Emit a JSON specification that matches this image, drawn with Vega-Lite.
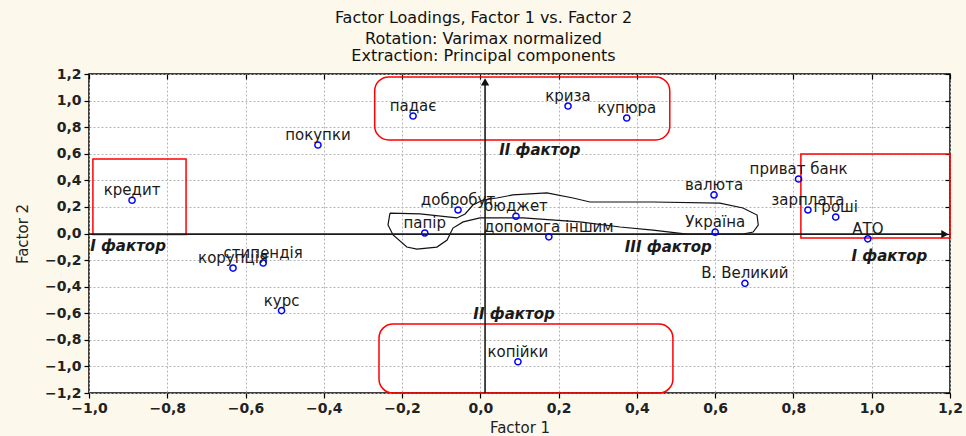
{
  "$schema": "https://vega.github.io/schema/vega-lite/v6.json",
  "width": 861,
  "height": 319,
  "autosize": {"type": "none"},
  "padding": {"left": 89, "top": 74, "right": 16, "bottom": 43},
  "background": "#fdf8ec",
  "view": {"fill": "white", "stroke": "black", "strokeWidth": 1.5},
  "config": {"font": "DejaVu Sans"},
  "title": {
    "text": "Factor Loadings, Factor 1 vs. Factor 2",
    "subtitle": ["Rotation: Varimax normalized", "Extraction: Principal components"],
    "font": "DejaVu Sans",
    "subtitleFont": "DejaVu Sans",
    "fontSize": 16,
    "subtitleFontSize": 16,
    "fontWeight": "normal",
    "color": "#111",
    "subtitleColor": "#111",
    "anchor": "middle",
    "dx": -36,
    "offset": 3,
    "subtitlePadding": 5,
    "subtitleLineHeight": 17
  },
  "resolve": {"axis": {"x": "independent", "y": "independent"}},
  "datasets": {
    "pts": [
      {"label": "кредит", "x": -0.89, "y": 0.25},
      {"label": "покупки", "x": -0.415, "y": 0.666},
      {"label": "падає", "x": -0.172, "y": 0.884},
      {"label": "криза", "x": 0.224, "y": 0.959},
      {"label": "купюра", "x": 0.374, "y": 0.869},
      {"label": "приват банк", "x": 0.813, "y": 0.41},
      {"label": "валюта", "x": 0.597, "y": 0.29},
      {"label": "зарплата", "x": 0.837, "y": 0.177},
      {"label": "гроші", "x": 0.908, "y": 0.124},
      {"label": "АТО", "x": 0.99, "y": -0.04},
      {"label": "Україна", "x": 0.6, "y": 0.01},
      {"label": "допомога іншим", "x": 0.175, "y": -0.025},
      {"label": "бюджет", "x": 0.091, "y": 0.13},
      {"label": "добробут", "x": -0.057, "y": 0.177},
      {"label": "папір", "x": -0.142, "y": 0.004},
      {"label": "стипендія", "x": -0.555, "y": -0.222},
      {"label": "корупція", "x": -0.632, "y": -0.26},
      {"label": "курс", "x": -0.508, "y": -0.58},
      {"label": "В. Великий", "x": 0.676, "y": -0.375},
      {"label": "копійки", "x": 0.096, "y": -0.965}
    ],
    "boxesSq": [
      {"x": -0.99, "x2": -0.752, "y": 0.561, "y2": -0.008},
      {"x": 0.819, "x2": 1.2, "y": 0.598, "y2": -0.034}
    ],
    "boxesRd": [
      {"x": -0.27, "x2": 0.484, "y": 1.178, "y2": 0.704},
      {"x": -0.259, "x2": 0.492, "y": -0.681, "y2": -1.2}
    ],
    "blob": [
      {"i": 0, "x": -0.231, "y": 0.154},
      {"i": 1, "x": -0.154, "y": 0.147},
      {"i": 2, "x": -0.06, "y": 0.117},
      {"i": 3, "x": -0.039, "y": 0.147},
      {"i": 4, "x": -0.019, "y": 0.214},
      {"i": 5, "x": 0.007, "y": 0.252},
      {"i": 6, "x": 0.042, "y": 0.267},
      {"i": 7, "x": 0.083, "y": 0.29},
      {"i": 8, "x": 0.17, "y": 0.305},
      {"i": 9, "x": 0.237, "y": 0.267},
      {"i": 10, "x": 0.28, "y": 0.237},
      {"i": 11, "x": 0.441, "y": 0.237},
      {"i": 12, "x": 0.612, "y": 0.229},
      {"i": 13, "x": 0.671, "y": 0.192},
      {"i": 14, "x": 0.707, "y": 0.139},
      {"i": 15, "x": 0.71, "y": 0.064},
      {"i": 16, "x": 0.697, "y": 0.011},
      {"i": 17, "x": 0.671, "y": -0.004},
      {"i": 18, "x": 0.528, "y": -0.004},
      {"i": 19, "x": 0.441, "y": 0.026},
      {"i": 20, "x": 0.357, "y": 0.049},
      {"i": 21, "x": 0.254, "y": 0.087},
      {"i": 22, "x": 0.109, "y": 0.117},
      {"i": 23, "x": -0.001, "y": 0.117},
      {"i": 24, "x": -0.044, "y": 0.087},
      {"i": 25, "x": -0.07, "y": 0.041},
      {"i": 26, "x": -0.085, "y": -0.049},
      {"i": 27, "x": -0.111, "y": -0.102},
      {"i": 28, "x": -0.162, "y": -0.117},
      {"i": 29, "x": -0.188, "y": -0.102},
      {"i": 30, "x": -0.223, "y": -0.011},
      {"i": 31, "x": -0.236, "y": 0.064},
      {"i": 32, "x": -0.231, "y": 0.154}
    ],
    "arrows": [
      {"x": 0.012, "x2": 0.012, "y": -1.2, "y2": 1.15},
      {"x": -1.0, "x2": 1.18, "y": -0.005, "y2": -0.005}
    ],
    "heads": [
      {"x": 0.012, "y": 1.14, "shape": "triangle-up"},
      {"x": 1.187, "y": -0.005, "shape": "triangle-right"}
    ],
    "factors": [
      {"t": "II фактор", "x": 0.152, "y": 0.628},
      {"t": "III фактор", "x": 0.48, "y": -0.1},
      {"t": "I фактор", "x": 1.045, "y": -0.17},
      {"t": "II фактор", "x": 0.086, "y": -0.606}
    ],
    "factorsL": [
      {"t": "I фактор", "x": -0.997, "y": -0.094}
    ]
  },
  "layer": [
    {
      "data": {"name": "boxesSq"},
      "mark": {"type": "rect", "filled": false, "stroke": "#ff0000", "strokeWidth": 1.5, "clip": false},
      "encoding": {
        "x": {"field": "x", "type": "quantitative", "scale": {"domain": [-1, 1.2], "nice": false, "zero": false}, "axis": null},
        "x2": {"field": "x2"},
        "y": {"field": "y", "type": "quantitative", "scale": {"domain": [-1.2, 1.2], "nice": false, "zero": false}, "axis": null},
        "y2": {"field": "y2"}
      }
    },
    {
      "data": {"name": "boxesRd"},
      "mark": {"type": "rect", "filled": false, "stroke": "#ff0000", "strokeWidth": 1.5, "cornerRadius": 14, "clip": false},
      "encoding": {
        "x": {"field": "x", "type": "quantitative", "scale": {"domain": [-1, 1.2], "nice": false, "zero": false}, "axis": null},
        "x2": {"field": "x2"},
        "y": {"field": "y", "type": "quantitative", "scale": {"domain": [-1.2, 1.2], "nice": false, "zero": false}, "axis": null},
        "y2": {"field": "y2"}
      }
    },
    {
      "data": {"name": "blob"},
      "mark": {"type": "line", "color": "#111", "strokeWidth": 1.2, "interpolate": "linear"},
      "encoding": {
        "x": {"field": "x", "type": "quantitative", "scale": {"domain": [-1, 1.2], "nice": false, "zero": false}, "axis": null},
        "y": {"field": "y", "type": "quantitative", "scale": {"domain": [-1.2, 1.2], "nice": false, "zero": false}, "axis": null},
        "order": {"field": "i", "type": "quantitative"}
      }
    },
    {
      "data": {"name": "arrows"},
      "mark": {"type": "rule", "color": "#1a1a1a", "strokeWidth": 1.6},
      "encoding": {
        "x": {"field": "x", "type": "quantitative", "scale": {"domain": [-1, 1.2], "nice": false, "zero": false},
          "axis": {"orient": "top", "values": [-1, -0.8, -0.6, -0.4, -0.2, 0, 0.2, 0.4, 0.6, 0.8, 1, 1.2], "labels": false, "grid": false, "domain": false, "tickSize": -5, "tickColor": "#000", "tickWidth": 1.2, "title": null}},
        "x2": {"field": "x2"},
        "y": {"field": "y", "type": "quantitative", "scale": {"domain": [-1.2, 1.2], "nice": false, "zero": false},
          "axis": {"orient": "right", "values": [-1.2, -1, -0.8, -0.6, -0.4, -0.2, 0, 0.2, 0.4, 0.6, 0.8, 1, 1.2], "labels": false, "grid": false, "domain": false, "tickSize": -5, "tickColor": "#000", "tickWidth": 1.2, "title": null}},
        "y2": {"field": "y2"}
      }
    },
    {
      "data": {"name": "heads"},
      "mark": {"type": "point", "filled": true, "color": "#111", "size": 70, "opacity": 1},
      "encoding": {
        "x": {"field": "x", "type": "quantitative", "scale": {"domain": [-1, 1.2], "nice": false, "zero": false}, "axis": null},
        "y": {"field": "y", "type": "quantitative", "scale": {"domain": [-1.2, 1.2], "nice": false, "zero": false}, "axis": null},
        "shape": {"field": "shape", "type": "nominal", "scale": null, "legend": null}
      }
    },
    {
      "data": {"name": "pts"},
      "mark": {"type": "point", "shape": "circle", "filled": false, "color": "#0000ff", "size": 38, "strokeWidth": 1.5, "opacity": 1},
      "encoding": {
        "x": {"field": "x", "type": "quantitative", "scale": {"domain": [-1, 1.2], "nice": false, "zero": false},
          "axis": {"orient": "bottom", "values": [-1, -0.8, -0.6, -0.4, -0.2, 0, 0.2, 0.4, 0.6, 0.8, 1, 1.2],
            "labelExpr": "replace(format(datum.value, '.1f'), '.', ',')",
            "grid": true, "gridColor": "#b4b4b4", "gridDash": [2, 2], "gridWidth": 1,
            "domain": false, "tickColor": "#000", "tickSize": 5, "tickWidth": 1.2,
            "labelFont": "DejaVu Sans", "labelFontSize": 14, "labelFontWeight": "bold", "labelColor": "#222", "labelPadding": 3,
            "labelFlush": false, "labelOverlap": false,
            "title": "Factor 1", "titleFont": "DejaVu Sans", "titleFontSize": 15, "titleFontWeight": "normal", "titleColor": "#222", "titlePadding": 5}},
        "y": {"field": "y", "type": "quantitative", "scale": {"domain": [-1.2, 1.2], "nice": false, "zero": false},
          "axis": {"orient": "left", "values": [-1.2, -1, -0.8, -0.6, -0.4, -0.2, 0, 0.2, 0.4, 0.6, 0.8, 1, 1.2],
            "labelExpr": "replace(format(datum.value, '.1f'), '.', ',')",
            "grid": true, "gridColor": "#b4b4b4", "gridDash": [2, 2], "gridWidth": 1,
            "domain": false, "tickColor": "#000", "tickSize": 5, "tickWidth": 1.2,
            "labelFont": "DejaVu Sans", "labelFontSize": 14, "labelFontWeight": "bold", "labelColor": "#222", "labelPadding": 3,
            "labelFlush": false, "labelOverlap": false,
            "title": "Factor 2", "titleFont": "DejaVu Sans", "titleFontSize": 15, "titleFontWeight": "normal", "titleColor": "#222", "titlePadding": 14}}
      }
    },
    {
      "data": {"name": "pts"},
      "mark": {"type": "text", "font": "DejaVu Sans", "fontSize": 15, "color": "#1a1a1a", "align": "center", "baseline": "alphabetic", "dy": -5},
      "encoding": {
        "x": {"field": "x", "type": "quantitative", "scale": {"domain": [-1, 1.2], "nice": false, "zero": false}, "axis": null},
        "y": {"field": "y", "type": "quantitative", "scale": {"domain": [-1.2, 1.2], "nice": false, "zero": false}, "axis": null},
        "text": {"field": "label", "type": "nominal"}
      }
    },
    {
      "data": {"name": "factors"},
      "mark": {"type": "text", "font": "DejaVu Sans", "fontSize": 15, "fontWeight": "bold", "fontStyle": "italic", "color": "#1a1a1a", "align": "center", "baseline": "middle"},
      "encoding": {
        "x": {"field": "x", "type": "quantitative", "scale": {"domain": [-1, 1.2], "nice": false, "zero": false}, "axis": null},
        "y": {"field": "y", "type": "quantitative", "scale": {"domain": [-1.2, 1.2], "nice": false, "zero": false}, "axis": null},
        "text": {"field": "t", "type": "nominal"}
      }
    },
    {
      "data": {"name": "factorsL"},
      "mark": {"type": "text", "font": "DejaVu Sans", "fontSize": 15, "fontWeight": "bold", "fontStyle": "italic", "color": "#1a1a1a", "align": "left", "baseline": "middle"},
      "encoding": {
        "x": {"field": "x", "type": "quantitative", "scale": {"domain": [-1, 1.2], "nice": false, "zero": false}, "axis": null},
        "y": {"field": "y", "type": "quantitative", "scale": {"domain": [-1.2, 1.2], "nice": false, "zero": false}, "axis": null},
        "text": {"field": "t", "type": "nominal"}
      }
    }
  ]
}
